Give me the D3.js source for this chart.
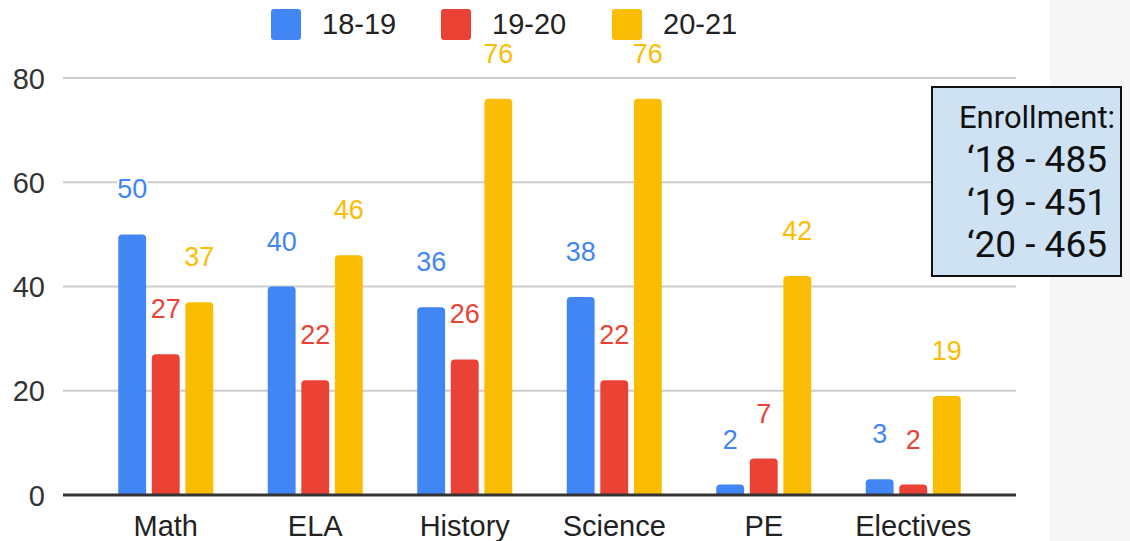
<!DOCTYPE html>
<html><head><meta charset="utf-8">
<script src="https://cdn.jsdelivr.net/npm/d3@7"></script>
<style>
html,body{margin:0;padding:0;background:#fff;}
svg{display:block;}
</style></head>
<body>
<svg id="c" width="1130" height="541"></svg>
<script>
const categories = ["Math","ELA","History","Science","PE","Electives"];
const seriesNames = ["18-19","19-20","20-21"];
const s1819 = [50,40,36,38,2,3];
const s1920 = [27,22,26,22,7,2];
const s2021 = [37,46,76,76,42,19];
const yTicks = [0,20,40,60,80];
const colors = ["#4285F4","#EA4335","#FBBC04"];
const noteLines = ["Enrollment:","\u201818 - 485","\u201819 - 451","\u201820 - 465"];

const svg = d3.select("#c");
const font = "'Liberation Sans', Arial, sans-serif";

// right gray panel
svg.append("rect").attr("x",1050).attr("y",0).attr("width",80).attr("height",541).attr("fill","#f6f6f6");

const y = d3.scaleLinear().domain([0,80]).range([495,78]);
const x = d3.scaleBand().domain(categories).range([91,988]).padding(0);
const groupW = 95;
const xi = d3.scaleBand().domain(seriesNames).range([0,groupW]).paddingInner(0.17);

// gridlines
svg.append("g").selectAll("line").data(yTicks.filter(d=>d!==0)).join("line")
  .attr("x1",63).attr("x2",1016).attr("y1",d=>y(d)).attr("y2",d=>y(d))
  .attr("stroke","#cccccc").attr("stroke-width",2);

// y axis labels via d3 axis
const yAxis = d3.axisLeft(y).tickValues(yTicks).tickSize(0).tickPadding(0);
const ga = svg.append("g").attr("transform","translate(45,0)").call(yAxis);
ga.select(".domain").remove();
ga.selectAll("text").attr("font-family",font).attr("font-size",29).attr("fill","#333").attr("dy","0.35em");

const data = categories.map((c,i)=>({cat:c, vals:[s1819[i],s1920[i],s2021[i]]}));
const off = (x.bandwidth()-groupW)/2;
const r = 4;
function barPath(x0,w,top,bot){
  const rr = Math.min(r,(bot-top));
  return `M${x0},${bot}V${top+rr}Q${x0},${top} ${x0+rr},${top}H${x0+w-rr}Q${x0+w},${top} ${x0+w},${top+rr}V${bot}Z`;
}
const groups = svg.append("g").selectAll("g").data(data).join("g")
  .attr("transform",d=>`translate(${x(d.cat)+off},0)`);
groups.selectAll("path").data(d=>d.vals.map((v,j)=>({v,j,s:seriesNames[j]}))).join("path")
  .attr("d",d=>barPath(xi(d.s),xi.bandwidth(),y(d.v),y(0)))
  .attr("fill",d=>colors[d.j]);

// baseline
svg.append("line").attr("x1",63).attr("x2",1016).attr("y1",y(0)).attr("y2",y(0))
  .attr("stroke","#333").attr("stroke-width",3);

// data labels
groups.selectAll("text").data(d=>d.vals.map((v,j)=>({v,j,s:seriesNames[j]}))).join("text")
  .attr("x",d=>xi(d.s)+xi.bandwidth()/2)
  .attr("y",d=>y(d.v)-36)
  .attr("text-anchor","middle")
  .attr("font-family",font).attr("font-size",27)
  .attr("fill",d=>colors[d.j])
  .attr("stroke","#fff").attr("stroke-width",4).attr("paint-order","stroke")
  .text(d=>d.v);

// category labels
const xAxis = d3.axisBottom(x).tickSize(0).tickPadding(0);
const gx = svg.append("g").attr("transform",`translate(${off+groupW/2-x.bandwidth()/2},0)`).call(xAxis);
gx.select(".domain").remove();
gx.selectAll("text").attr("font-family",font).attr("font-size",29).attr("fill","#222")
  .attr("y",536).attr("dy",0);

// legend
const legX = [271,441,612];
const lg = svg.append("g").selectAll("g").data(seriesNames).join("g")
  .attr("transform",(d,i)=>`translate(${legX[i]},9)`);
lg.append("rect").attr("width",30).attr("height",31).attr("rx",3).attr("fill",(d,i)=>colors[i]);
lg.append("text").attr("x",51).attr("y",25).attr("font-family",font).attr("font-size",29)
  .attr("fill","#222").text(d=>d);

// enrollment note
svg.append("rect").attr("x",932).attr("y",87).attr("width",189).attr("height",189)
  .attr("fill","#cfe2f3").attr("stroke","#111").attr("stroke-width",2);
const noteY = [128,172,215,257];
svg.append("g").selectAll("text").data(noteLines).join("text")
  .attr("x",1037).attr("y",(d,i)=>noteY[i]).attr("text-anchor","middle")
  .attr("font-family","Roboto, sans-serif").attr("font-size",(d,i)=>i===0?31:37)
  .attr("fill","#111").text(d=>d);
</script>
</body></html>
